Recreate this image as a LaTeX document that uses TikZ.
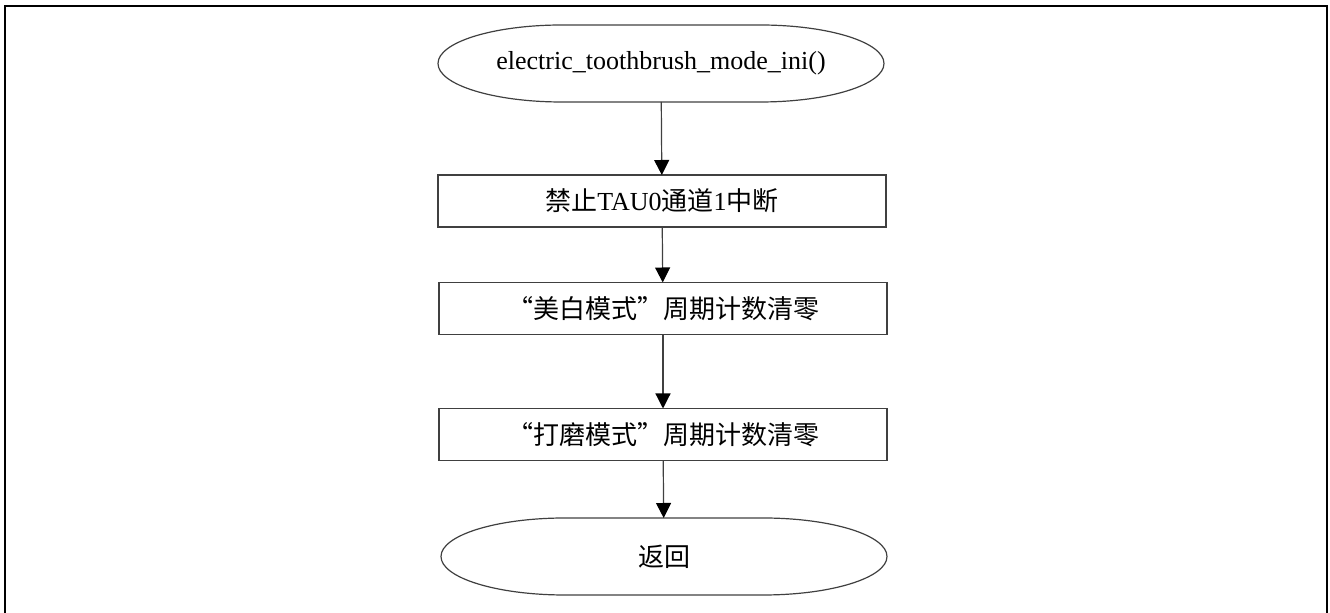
\documentclass[tikz,border=0pt]{standalone}
\usepackage{fontspec}
\setmainfont{Liberation Serif}
\newfontfamily\cjk{Noto Sans CJK SC}
\usetikzlibrary{arrows.meta}

\newcommand{\termline}[1]{\draw[boxline] ([xshift=62pt]#1.north west) -- ([xshift=-62pt]#1.north east) arc[start angle=90,end angle=-90,x radius=62pt,y radius=19.25pt] -- ([xshift=62pt]#1.south west) arc[start angle=270,end angle=90,x radius=62pt,y radius=19.25pt] -- cycle;}

\begin{document}
\begin{tikzpicture}[x=0.5pt,y=-0.5pt,
  every node/.style={font=\fontsize{13pt}{15pt}\selectfont, inner sep=0pt, outer sep=0pt},
  boxline/.style={draw=black!75, line width=0.6pt},
  term/.style={minimum width=223pt, minimum height=38.5pt},
  stepbox/.style={boxline, minimum width=224pt, minimum height=26pt},
  flow/.style={draw=black!75, line width=0.6pt, -{Triangle[length=7.5pt,width=7.5pt,black]}}]
\useasboundingbox (0,0) rectangle (1330,613);
\draw[line width=1pt] (5,613) -- (5,6) -- (1327,6) -- (1327,613);

\node[term] (start) at (661,63.5) {electric\_toothbrush\_mode\_ini()};
\node[stepbox] (off) at (662,201) {{\cjk 禁止}TAU0{\cjk 通道}1{\cjk 中断}};
\node[stepbox] (white) at (663,308.5) {{\cjk “美白模式”周期计数清零}};
\node[stepbox] (polish) at (663,434.5) {{\cjk “打磨模式”周期计数清零}};
\node[term] (ret) at (664,556.5) {{\cjk 返回}};

\termline{start}
\termline{ret}

\draw[flow] (start) -- (off);
\draw[flow] (off) -- (white);
\draw[flow] (white) -- (polish);
\draw[flow] (polish) -- (ret);
\end{tikzpicture}
\end{document}
